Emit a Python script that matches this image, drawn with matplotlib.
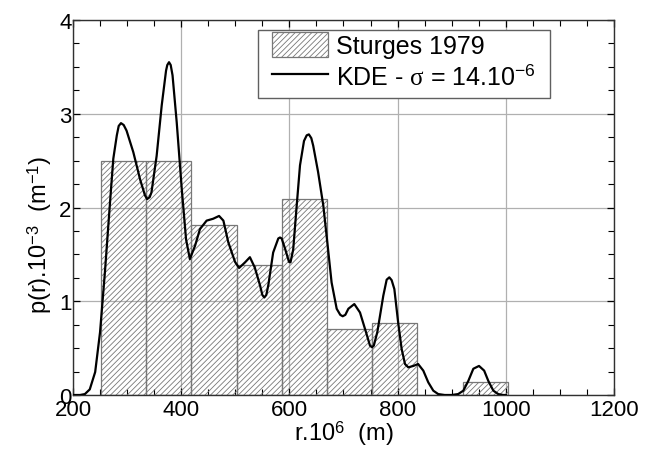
import matplotlib
matplotlib.use("Agg")
import matplotlib.pyplot as plt
from matplotlib.patches import Rectangle
import numpy as np

plt.rcParams['font.family'] = ['Liberation Sans', 'DejaVu Sans']
plt.rcParams['mathtext.fontset'] = 'custom'
plt.rcParams['mathtext.rm'] = 'Liberation Sans'
plt.rcParams['mathtext.it'] = 'Liberation Serif'
plt.rcParams['hatch.color'] = '#8a8a8a'
plt.rcParams['hatch.linewidth'] = 0.6

# Histogram (Sturges 1979)
bin_edges = [252, 335.5, 419, 502.5, 586, 669.5, 753, 836.5, 920, 1003.5]
bin_heights = [2.50, 2.50, 1.81, 1.39, 2.09, 0.70, 0.765, 0.0, 0.142]

# KDE curve
kde_r = [200, 213, 222, 231, 241, 250, 259, 268, 274.5, 281, 284.5, 288.7, 293.7, 299, 311.5, 324,
         333, 337, 341.7, 345, 354.6, 364, 372, 374.3, 377.5, 380.6, 384, 391.7, 401, 409, 416,
         425.5, 434.7, 447, 459, 470, 478, 487, 499.5, 507, 518, 527, 536, 545.7, 550, 553.6,
         557.3, 561, 570, 579.5, 582.6, 585.7, 592, 599.3, 602, 607, 613.5, 619.6, 627, 632,
         636, 640.5, 644, 653, 662.7, 670.8, 678, 687.4, 694, 698.5, 703.4, 709, 720, 730.5,
         741.6, 749, 752.7, 756, 762.5, 773.6, 779.8, 784.7, 789, 794, 801,
         807.5, 813.7, 819.8, 829, 838, 847.5, 856.7, 866, 875, 887, 900, 912, 921.5,
         930.7, 940, 950.5, 960, 967.7, 977, 986, 995, 1000]
kde_p = [0.0, 0.0, 0.01, 0.06, 0.245, 0.67, 1.31, 2.02, 2.52, 2.77, 2.87, 2.90, 2.88, 2.82, 2.59, 2.30,
         2.13, 2.09, 2.11, 2.16, 2.55, 3.09, 3.46, 3.52, 3.55, 3.52, 3.41, 2.91, 2.20, 1.66, 1.45,
         1.59, 1.77, 1.86, 1.88, 1.91, 1.86, 1.63, 1.42, 1.355, 1.415, 1.47, 1.36, 1.17, 1.067, 1.04,
         1.067, 1.17, 1.52, 1.67, 1.68, 1.67, 1.56, 1.42, 1.415, 1.55, 2.02, 2.45, 2.71, 2.77,
         2.78, 2.74, 2.66, 2.38, 2.02, 1.59, 1.20, 0.92, 0.855, 0.84, 0.855, 0.92, 0.97, 0.88,
         0.67, 0.526, 0.51, 0.526, 0.67, 1.06, 1.23, 1.255, 1.225, 1.13, 0.775,
         0.49, 0.33, 0.295, 0.31, 0.33, 0.26, 0.135, 0.046, 0.01, 0.0, 0.0, 0.01, 0.046,
         0.15, 0.28, 0.31, 0.26, 0.15, 0.046, 0.01, 0.0, 0.0]

x_ticks = [200, 400, 600, 800, 1000, 1200]
y_ticks = [0, 1, 2, 3, 4]

fig = plt.figure(figsize=(6.6, 4.52), dpi=100)
ax = fig.add_axes([0.1106, 0.1239, 0.9303 - 0.1106, 0.9535 - 0.1239])

widths = np.diff(bin_edges)
bars = ax.bar(bin_edges[:-1], bin_heights, width=widths, align='edge', facecolor='none',
              edgecolor='#777777', linewidth=0.9, hatch='//////', label='Sturges 1979', zorder=2)
line, = ax.plot(kde_r, kde_p, color='black', linewidth=1.6, solid_joinstyle='round',
                label=r'KDE - $\sigma$ = 14.10$^{-6}$', zorder=3)

ax.set_xlim(200, 1200)
ax.set_ylim(0, 4)
ax.set_xticks(x_ticks)
ax.set_yticks(y_ticks)
ax.set_xticks(np.arange(200, 1201, 50), minor=True)
ax.set_yticks(np.arange(0, 4.01, 0.25), minor=True)
ax.tick_params(which='both', direction='in', top=True, right=True, labelsize=16)
ax.tick_params(axis='x', pad=3)
ax.tick_params(axis='y', pad=1)
ax.tick_params(which='major', length=5, width=0.9)
ax.tick_params(which='minor', length=4, width=0.8)
ax.grid(True, which='major', color='#b0b0b0', linewidth=0.9, zorder=1)
ax.set_axisbelow(True)
for s in ax.spines.values():
    s.set_color('#303030')
    s.set_linewidth(1.0)

ax.set_xlabel(r'r.10$^{6}$  (m)', fontsize=17)
ax.xaxis.set_label_coords(0.5, -0.062)
ax.set_ylabel(r'p(r).10$^{-3}$  (m$^{-1}$)', fontsize=17)
ax.yaxis.set_label_coords(-0.035, 0.43)

# legend frame
ax.add_patch(Rectangle((0.342, 0.792), 0.882 - 0.342, 0.973 - 0.792, transform=ax.transAxes,
                       facecolor='white', edgecolor='#606060', linewidth=1.0, zorder=4))
leg = ax.legend([bars, line], ['Sturges 1979', r'KDE - $\sigma$ = 14.10$^{-6}$'],
                loc='upper left', bbox_to_anchor=(0.368, 0.968), borderaxespad=0,
                borderpad=0, frameon=False, fontsize=18,
                handlelength=2.24, handleheight=1.16, labelspacing=0.22,
                handletextpad=0.3)
leg.set_zorder(5)

fig.savefig('out.png', dpi=100)
